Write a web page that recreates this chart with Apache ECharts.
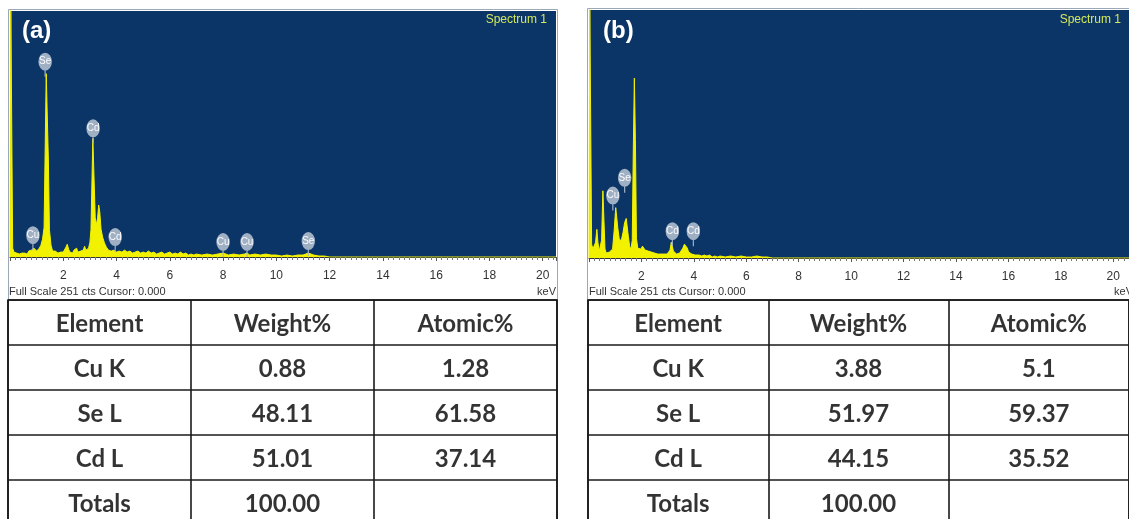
<!DOCTYPE html>
<html>
<head>
<meta charset="utf-8">
<script src="https://cdn.jsdelivr.net/npm/echarts@6/dist/echarts.min.js"></script>
<style>
html, body { margin: 0; padding: 0; background: #fff; overflow: hidden; }
#chart { width: 1129px; height: 528px; }
</style>
</head>
<body>
<div id="chart"></div>
<script>
// EDS spectra: [keV, counts], full scale 251 cts
const spectrumA = [
  [0, 0], [0.03, 260], [0.07, 260], [0.1, 9], [0.15, 5], [0.2, 6], [0.25, 4], [0.3, 5], [0.35, 3],
  [0.4, 5], [0.45, 4], [0.5, 6], [0.55, 4], [0.6, 5], [0.65, 3], [0.7, 6], [0.75, 5], [0.8, 7],
  [0.85, 6], [0.9, 9], [0.95, 8], [1.0, 6], [1.05, 8], [1.1, 9], [1.16, 12], [1.22, 18], [1.28, 30],
  [1.32, 110], [1.36, 187], [1.4, 187], [1.44, 100], [1.48, 28], [1.54, 12], [1.6, 6], [1.65, 4],
  [1.7, 6], [1.75, 5], [1.8, 4], [1.85, 6], [1.9, 5], [1.95, 6], [2.0, 5], [2.05, 7], [2.1, 10],
  [2.15, 13], [2.2, 8], [2.25, 5], [2.3, 6], [2.35, 4], [2.4, 7], [2.45, 6], [2.5, 9], [2.55, 5],
  [2.6, 7], [2.65, 6], [2.7, 8], [2.75, 7], [2.8, 11], [2.85, 7], [2.9, 6], [2.95, 9], [3.0, 15],
  [3.04, 28], [3.08, 30], [3.11, 121], [3.16, 121], [3.2, 40], [3.25, 33], [3.29, 40], [3.33, 53],
  [3.37, 46], [3.42, 28], [3.48, 20], [3.55, 14], [3.62, 10], [3.7, 7], [3.8, 6], [3.9, 7], [4.0, 5],
  [4.1, 6], [4.2, 5], [4.3, 7], [4.4, 5], [4.5, 6], [4.6, 4], [4.7, 5], [4.8, 6], [4.9, 4], [5.0, 5],
  [5.1, 4], [5.2, 6], [5.3, 4], [5.4, 5], [5.5, 3], [5.6, 4], [5.7, 5], [5.8, 3], [5.9, 4], [6.0, 5],
  [6.1, 3], [6.2, 4], [6.3, 3], [6.4, 5], [6.5, 3], [6.6, 4], [6.7, 2], [6.8, 3], [6.9, 2], [7.0, 3],
  [7.2, 2], [7.4, 3], [7.6, 2], [7.8, 3], [8.0, 4], [8.05, 5], [8.2, 2], [8.4, 3], [8.6, 2], [8.8, 3],
  [8.9, 4], [9.0, 2], [9.2, 3], [9.4, 2], [9.6, 3], [9.8, 2], [10.0, 2], [10.2, 1], [10.4, 2],
  [10.6, 1], [10.8, 2], [11.0, 2], [11.2, 4], [11.4, 2], [11.6, 1], [11.8, 1], [12.0, 0], [20.5, 0]
];
const spectrumB = [
  [0, 0], [0.03, 260], [0.07, 260], [0.1, 14], [0.15, 9], [0.2, 10], [0.25, 16], [0.3, 29], [0.34, 16],
  [0.39, 7], [0.44, 5], [0.48, 18], [0.53, 68], [0.57, 38], [0.61, 9], [0.66, 5], [0.72, 4], [0.78, 6],
  [0.84, 5], [0.9, 9], [0.96, 28], [1.02, 51], [1.06, 51], [1.1, 30], [1.15, 20], [1.2, 17], [1.25, 20],
  [1.3, 26], [1.36, 36], [1.42, 40], [1.46, 38], [1.5, 22], [1.55, 12], [1.6, 9], [1.65, 18],
  [1.69, 110], [1.73, 182], [1.77, 120], [1.81, 20], [1.86, 10], [1.92, 8], [1.98, 9], [2.04, 12],
  [2.08, 11], [2.14, 8], [2.2, 6], [2.26, 7], [2.32, 5], [2.38, 6], [2.44, 4], [2.5, 5], [2.56, 6],
  [2.62, 4], [2.68, 5], [2.74, 4], [2.8, 6], [2.86, 4], [2.92, 5], [2.98, 4], [3.04, 5], [3.09, 8],
  [3.14, 16], [3.18, 15], [3.22, 7], [3.28, 5], [3.34, 4], [3.4, 6], [3.46, 5], [3.52, 7], [3.58, 10],
  [3.64, 14], [3.7, 15], [3.75, 10], [3.8, 6], [3.86, 5], [3.92, 4], [3.98, 5], [4.05, 3], [4.12, 4],
  [4.2, 3], [4.3, 2], [4.4, 3], [4.5, 2], [4.6, 3], [4.7, 1], [4.8, 2], [4.9, 1], [5.0, 2], [5.2, 1],
  [5.4, 2], [5.6, 1], [5.8, 2], [6.0, 1], [6.2, 1], [6.4, 2], [6.6, 1], [6.8, 1], [7.0, 0], [20.6, 0]
];

// element markers: [keV, counts at the foot of the marker, element]
const peaksA = [
  [1.32, 184, 'Se'], [3.12, 116, 'Cd'], [0.86, 7, 'Cu'], [3.95, 5, 'Cd'],
  [8.0, 0, 'Cu'], [8.9, 0, 'Cu'], [11.2, 1, 'Se']
];
const peaksB = [
  [0.91, 48, 'Cu'], [1.36, 66, 'Se'], [3.18, 12, 'Cd'], [3.98, 12, 'Cd']
];

// quantification tables
const tableCols = ['Element', 'Weight%', 'Atomic%'];
const elements = ['Cu K', 'Se L', 'Cd L', 'Totals'];
const weightA = ['0.88', '48.11', '51.01', '100.00'];
const atomicA = ['1.28', '61.58', '37.14', ''];
const weightB = ['3.88', '51.97', '44.15', '100.00'];
const atomicB = ['5.1', '59.37', '35.52', ''];

const BLUE = '#0b3566';
const YELLOW = '#f2f200';
const BADGE = 'path://M9,0A9,9,0,1,1,8.99,0Z M8.2,16 L9.8,16 L9.8,24 L8.2,24 Z';

function tableCells(weight, atomic) {
  const cells = tableCols.map((t, c) => [c, 0, t]);
  elements.forEach((el, i) => {
    cells.push([0, i + 1, el], [1, i + 1, weight[i]], [2, i + 1, atomic[i]]);
  });
  return cells;
}

function specX(idx, max) {
  return {
    type: 'value', gridIndex: idx, min: 0, max: max, interval: 2,
    axisLine: { show: true, lineStyle: { color: '#333', width: 1 } },
    axisTick: { show: true, length: 4, lineStyle: { color: '#555' } },
    minorTick: { show: true, splitNumber: 10, length: 3, lineStyle: { color: '#777' } },
    axisLabel: {
      color: '#333', fontSize: 12, fontFamily: 'Liberation Sans', margin: 13,
      showMinLabel: false, showMaxLabel: false,
      formatter: v => (v > 0 && v % 2 === 0 ? String(v) : '')
    },
    splitLine: { show: false }
  };
}
function specY(idx) {
  return { type: 'value', gridIndex: idx, min: 0, max: 251, show: false };
}
function tableX(idx) {
  return {
    type: 'category', gridIndex: idx, data: tableCols,
    axisLine: { show: false }, axisTick: { show: false }, axisLabel: { show: false },
    splitLine: { show: true, interval: 0, lineStyle: { color: '#1a1a1a', width: 1.6 } }
  };
}
function tableY(idx) {
  return {
    type: 'category', gridIndex: idx, inverse: true, data: ['h', 'r1', 'r2', 'r3', 'r4'],
    axisLine: { show: false }, axisTick: { show: false }, axisLabel: { show: false },
    splitLine: { show: true, interval: 0, lineStyle: { color: '#1a1a1a', width: 1.6 } }
  };
}
function specSeries(idx, data) {
  return {
    type: 'line', xAxisIndex: idx, yAxisIndex: idx, data: data,
    showSymbol: false, symbol: 'none', clip: true, sampling: null, animation: false,
    lineStyle: { color: YELLOW, width: 1 },
    areaStyle: { color: YELLOW, opacity: 1 }
  };
}
function badgeSeries(idx, data) {
  return {
    type: 'scatter', xAxisIndex: idx, yAxisIndex: idx, z: 5, animation: false,
    data: data.map(p => ({ value: [p[0], p[1]], name: p[2] })),
    symbol: BADGE, symbolSize: [18, 24], symbolOffset: [0, -12], symbolKeepAspect: true,
    itemStyle: { color: '#a9b7c9', opacity: 0.95 },
    label: {
      show: true, position: 'inside', offset: [0, -3], formatter: '{b}',
      color: '#ffffff', fontSize: 10, fontFamily: 'Liberation Sans'
    },
    clip: false
  };
}
function tableSeries(idx, cells) {
  return {
    type: 'scatter', xAxisIndex: idx, yAxisIndex: idx, animation: false,
    data: cells, symbolSize: 1, itemStyle: { color: 'rgba(0,0,0,0)' },
    label: {
      show: true, position: 'inside', offset: [0, 2], formatter: p => p.value[2],
      color: '#000', fontSize: 24, fontWeight: 'bold', fontFamily: 'Lato'
    }
  };
}

const chart = echarts.init(document.getElementById('chart'), null, { renderer: 'canvas' });
chart.setOption({
  animation: false,
  backgroundColor: '#ffffff',
  grid: [
    { left: 10, top: 11, width: 546, height: 246, show: true, backgroundColor: BLUE, borderWidth: 0 },
    { left: 589, top: 10, width: 544, height: 248, show: true, backgroundColor: BLUE, borderWidth: 0 },
    { left: 8, top: 300, width: 549, height: 225, show: true, borderColor: '#1a1a1a', borderWidth: 1.6 },
    { left: 588, top: 300, width: 548, height: 225, show: true, borderColor: '#1a1a1a', borderWidth: 1.6 }
  ],
  xAxis: [specX(0, 20.5), specX(1, 20.6), tableX(2), tableX(3)],
  yAxis: [specY(0), specY(1), tableY(2), tableY(3)],
  title: [
    { text: '(a)', left: 17, top: 14, textStyle: { color: '#fff', fontSize: 24, fontWeight: 'bold', fontFamily: 'Liberation Sans' } },
    { text: '(b)', left: 598, top: 14, textStyle: { color: '#fff', fontSize: 24, fontWeight: 'bold', fontFamily: 'Liberation Sans' } },
    { text: 'Spectrum 1', right: 577, top: 9, textStyle: { color: '#d4e85a', fontSize: 12, fontWeight: 'normal', fontFamily: 'Liberation Sans' } },
    { text: 'Spectrum 1', right: 3, top: 9, textStyle: { color: '#d4e85a', fontSize: 12, fontWeight: 'normal', fontFamily: 'Liberation Sans' } },
    { text: 'Full Scale 251 cts Cursor: 0.000', left: 9, top: 286, padding: 0, textStyle: { color: '#333', fontSize: 11, fontWeight: 'normal', fontFamily: 'Liberation Sans' } },
    { text: 'keV', right: 573, top: 286, padding: 0, textStyle: { color: '#333', fontSize: 11, fontWeight: 'normal', fontFamily: 'Liberation Sans' } },
    { text: 'Full Scale 251 cts Cursor: 0.000', left: 589, top: 286, padding: 0, textStyle: { color: '#333', fontSize: 11, fontWeight: 'normal', fontFamily: 'Liberation Sans' } },
    { text: 'keV', right: -4, top: 286, padding: 0, textStyle: { color: '#333', fontSize: 11, fontWeight: 'normal', fontFamily: 'Liberation Sans' } }
  ],
  graphic: [
    { type: 'rect', shape: { x: 8.5, y: 9.5, width: 549, height: 291 }, style: { fill: 'none', stroke: '#9aa8b8', lineWidth: 1 }, z: -1 },
    { type: 'rect', shape: { x: 587.5, y: 8.5, width: 550, height: 292 }, style: { fill: 'none', stroke: '#9aa8b8', lineWidth: 1 }, z: -1 }
  ],
  series: [
    specSeries(0, spectrumA),
    specSeries(1, spectrumB),
    badgeSeries(0, peaksA),
    badgeSeries(1, peaksB),
    tableSeries(2, tableCells(weightA, atomicA)),
    tableSeries(3, tableCells(weightB, atomicB))
  ]
});
</script>
</body>
</html>
